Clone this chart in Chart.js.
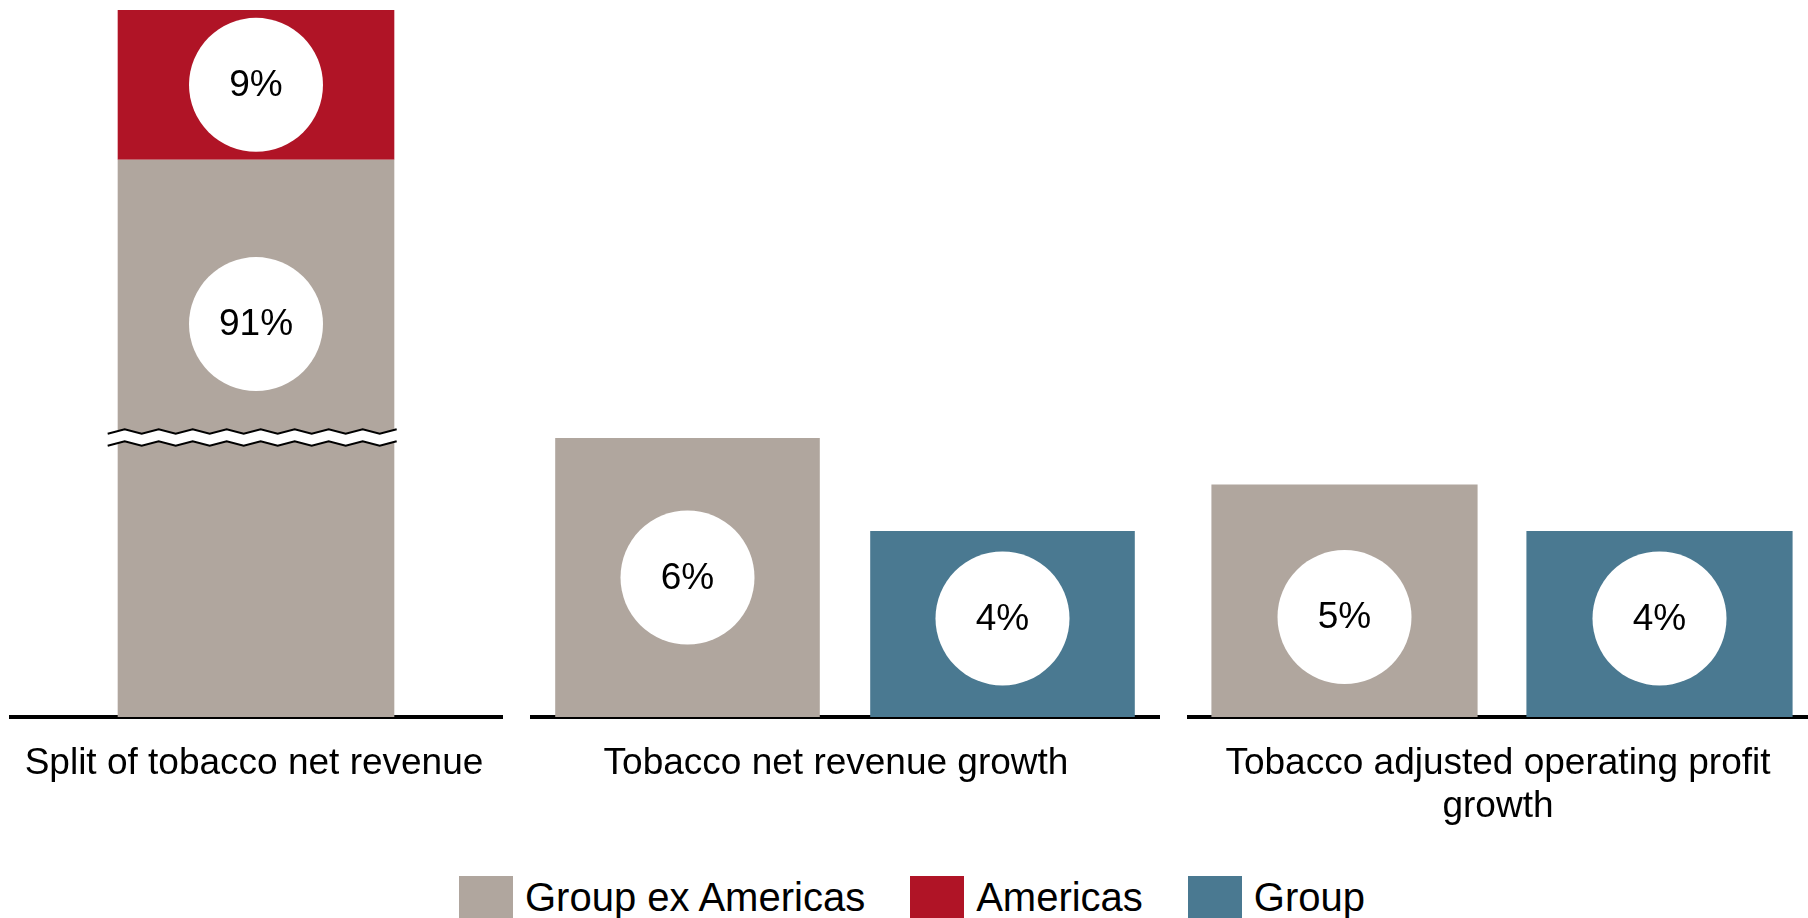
<!DOCTYPE html>
<html>
<head>
<meta charset="utf-8">
<title>Tobacco revenue and profit</title>
<script src="https://cdn.jsdelivr.net/npm/chart.js@4.4.1/dist/chart.umd.min.js"></script>
<style>
  html, body { margin: 0; padding: 0; background: #fff; }
  body {
    width: 1808px; height: 918px; overflow: hidden; position: relative;
    font-family: "Liberation Sans", Arial, sans-serif;
  }
  .panel { position: absolute; top: 0; }
  #legend {
    position: absolute; top: 876px; left: 459px;
    display: flex; align-items: flex-start; white-space: nowrap;
    font-size: 40px; line-height: 42px; color: #000;
  }
  #legend .item { display: flex; align-items: flex-start; margin-right: 45px; }
  #legend .swatch { width: 54px; height: 42px; margin-right: 12px; }
</style>
</head>
<body>
<div class="panel" style="left:9px"><canvas id="split"></canvas></div>
<div class="panel" style="left:530px"><canvas id="revenue"></canvas></div>
<div class="panel" style="left:1187px"><canvas id="profit"></canvas></div>
<div id="legend"></div>

<script>
// one category per panel
const categories = [
  "Split of tobacco net revenue",
  "Tobacco net revenue growth",
  ["Tobacco adjusted operating profit", "growth"],
];

// values in %
const groupExAmericas = [91, 6, 5];
const americas = [9, null, null];
const group = [null, 4, 4];

const seriesNames = ["Group ex Americas", "Americas", "Group"];
const seriesColors = ["#b0a69e", "#b01426", "#4a7991"];

Chart.defaults.font.family = '"Liberation Sans", Arial, sans-serif';
Chart.defaults.color = "#000";

// linear scale with a squeezed-out band, for the split bar
class GapScale extends Chart.LinearScale {
  static id = "gapLinear";

  squeeze(v) {
    const g = this.options.gap;
    if (!g) return v;
    if (v <= g.from) return v;
    if (v >= g.to) return v - (g.to - g.from);
    return g.from;
  }

  getPixelForValue(v) {
    if (v === null || v === undefined) return NaN;
    const lo = this.squeeze(this.min);
    const hi = this.squeeze(this.max);
    return this.getPixelForDecimal((this.squeeze(v) - lo) / (hi - lo));
  }
}
Chart.register(GapScale);

// zigzag break drawn across the bar at the start of the gap
const gapMark = {
  id: "gapMark",
  afterDatasetsDraw(chart) {
    const y = chart.scales.y;
    const g = y.options.gap;
    if (!g) return;
    const bar = chart.getDatasetMeta(0).data[0];
    const cy = y.getPixelForValue(g.from);
    const left = bar.x - bar.width / 2 - 10;
    const right = bar.x + bar.width / 2 + 9;
    const step = 17, amp = 2.2, half = 6;

    const pts = [];
    for (let x = left, k = 0; x <= right + 0.1; x += step, k++) {
      pts.push([Math.min(x, right), k % 2 ? -amp : amp]);
    }

    const ctx = chart.ctx;
    ctx.save();
    ctx.beginPath();
    pts.forEach(([x, d], i) => (i ? ctx.lineTo(x, cy - half + d) : ctx.moveTo(x, cy - half + d)));
    for (let i = pts.length - 1; i >= 0; i--) ctx.lineTo(pts[i][0], cy + half + pts[i][1]);
    ctx.closePath();
    ctx.fillStyle = "#fff";
    ctx.fill();

    ctx.strokeStyle = "#000";
    ctx.lineWidth = 2;
    ctx.lineJoin = "miter";
    [-half, half].forEach((off) => {
      ctx.beginPath();
      pts.forEach(([x, d], i) => (i ? ctx.lineTo(x, cy + off + d) : ctx.moveTo(x, cy + off + d)));
      ctx.stroke();
    });
    ctx.restore();
  },
};

// white disc with the value inside each bar
const valueBadges = {
  id: "valueBadges",
  afterDatasetsDraw(chart, args, opts) {
    const ctx = chart.ctx;
    ctx.save();
    chart.data.datasets.forEach((ds, di) => {
      const meta = chart.getDatasetMeta(di);
      meta.data.forEach((bar, i) => {
        const v = ds.data[i];
        if (v === null || v === undefined) return;
        const t = opts.anchor && opts.anchor[di] != null ? opts.anchor[di] : 0.5;
        const cy = bar.base + (bar.y - bar.base) * t;
        ctx.beginPath();
        ctx.arc(bar.x, cy, opts.radius, 0, Math.PI * 2);
        ctx.fillStyle = "#fff";
        ctx.fill();
        ctx.fillStyle = "#000";
        ctx.font = opts.size + 'px "Liberation Sans", Arial, sans-serif';
        ctx.textAlign = "center";
        ctx.textBaseline = "middle";
        ctx.fillText(v + "%", bar.x, cy + 1);
      });
    });
    ctx.restore();
  },
};

const CANVAS_H = 860;
const AXIS_BAND = 143;

function makePanel(id, idx, width, cfg) {
  const canvas = document.getElementById(id);
  canvas.width = width;
  canvas.height = CANVAS_H;

  const values = [groupExAmericas, americas, group];
  const datasets = seriesNames.map((name, s) => ({
    label: name,
    data: [values[s][idx]],
    backgroundColor: seriesColors[s],
    borderWidth: 0,
    barPercentage: cfg.barPercentage,
    categoryPercentage: 1,
    skipNull: true,
  }));

  return new Chart(canvas, {
    type: "bar",
    data: { labels: [categories[idx]], datasets },
    options: {
      responsive: false,
      animation: false,
      layout: { padding: { top: cfg.padTop, left: 0, right: 0, bottom: 0 } },
      plugins: {
        legend: { display: false },
        tooltip: { enabled: false },
        valueBadges: { radius: 67, size: 37, anchor: cfg.anchor },
      },
      scales: {
        x: {
          stacked: cfg.stacked,
          grid: { display: false, drawTicks: false },
          border: { display: true, color: "#000", width: 4 },
          ticks: {
            font: { size: 37, lineHeight: 1.16 },
            color: "#000",
            padding: 25,
            labelOffset: cfg.labelOffset,
            maxRotation: 0,
            autoSkip: false,
          },
          afterFit(scale) {
            // keep the axis full width; labels may overhang
            scale.height = AXIS_BAND;
            scale.paddingLeft = 0;
            scale.paddingRight = 0;
          },
        },
        y: Object.assign({
          display: false,
          stacked: cfg.stacked,
          min: 0,
          max: cfg.max,
        }, cfg.y || {}),
      },
    },
    plugins: cfg.stacked ? [gapMark, valueBadges] : [valueBadges],
  });
}

makePanel("split", 0, 494, {
  stacked: true,
  barPercentage: 0.56,
  padTop: 10,
  max: 100,
  labelOffset: -2,
  anchor: [0.705, 0.5],
  y: { type: "gapLinear", gap: { from: 16.8, to: 74.3 } },
});

makePanel("revenue", 1, 630, {
  stacked: false,
  barPercentage: 0.84,
  padTop: 19.5,
  max: 15,
  labelOffset: -9,
  anchor: [0.5, null, 0.53],
});

makePanel("profit", 2, 630, {
  stacked: false,
  barPercentage: 0.845,
  padTop: 19.5,
  max: 15,
  labelOffset: -4,
  anchor: [0.43, null, 0.53],
});

// legend row under the panels
const legend = document.getElementById("legend");
seriesNames.forEach((name, s) => {
  const item = document.createElement("div");
  item.className = "item";
  const sw = document.createElement("span");
  sw.className = "swatch";
  sw.style.background = seriesColors[s];
  const txt = document.createElement("span");
  txt.textContent = name;
  item.appendChild(sw);
  item.appendChild(txt);
  legend.appendChild(item);
});
</script>
</body>
</html>
